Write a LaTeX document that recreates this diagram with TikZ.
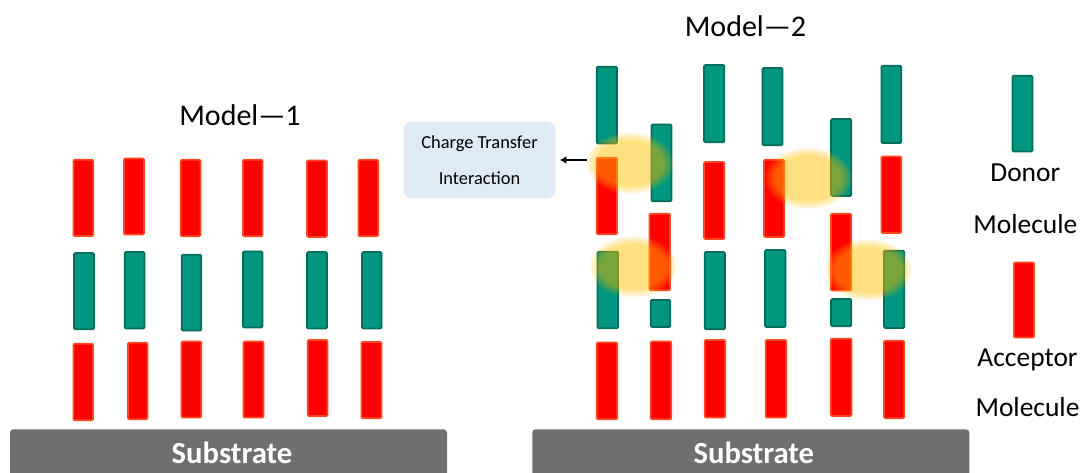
\documentclass[tikz,border=0pt]{standalone}
\usepackage{fontspec}
\setmainfont{Carlito}
\usetikzlibrary{arrows.meta}
\definecolor{accfill}{RGB}{255,0,0}
\definecolor{accline}{RGB}{255,72,32}
\definecolor{donfill}{RGB}{0,150,128}
\definecolor{donline}{RGB}{0,110,92}
\definecolor{subc}{RGB}{111,111,111}
\definecolor{boxc}{RGB}{222,235,247}
\definecolor{glowc}{RGB}{255,192,0}
\tikzset{
  acc/.style={fill=accfill, draw=accline, line width=1.3pt, rounded corners=0.8pt},
  don/.style={fill=donfill, draw=donline, line width=1.3pt, rounded corners=0.8pt},
  subst/.style={fill=subc, rounded corners=2.5pt},
  subtext/.style={text=white, font=\fontsize{23}{27}\selectfont\bfseries, inner sep=0pt},
  title/.style={font=\fontsize{22.5}{27}\selectfont, inner sep=0pt, anchor=base},
  legtext/.style={font=\fontsize{20.6}{24}\selectfont, inner sep=0pt, anchor=base},
  ctbox/.style={fill=boxc, rounded corners=6pt, inner sep=0pt, minimum width=114pt, minimum height=57.5pt,
    align=center, font=\fontsize{13.8}{27}\selectfont},
  ctarrow/.style={-{Latex[length=5pt,width=6pt]}, line width=1.5pt, shorten >=3pt}
}
\begin{document}
\begin{tikzpicture}[x=0.75pt,y=-0.75pt]
\useasboundingbox (0,0) rectangle (1082,473);
\clip (0,0) rectangle (1082,473);
% substrates
\fill[subst] (10,490) rectangle (447,429.3);
\fill[subst] (532.3,490) rectangle (969.3,429.3);
\node[subtext, anchor=base] (sub1) at (232,464) {Substrate};
\node[subtext, anchor=base] (sub2) at (753.8,464) {Substrate};
% titles
\node[title] (m1) at (240,125.7) {Model—1};
\node[title] (m2) at (745.5,36.7) {Model—2};
% Model 1 acceptors
\foreach \a/\b/\c/\d in {
  73.5/93.2/159.8/235.9, 124.1/143.9/158.5/234.5, 180.8/200.5/159.8/236.2, 243.1/262.5/159.8/236.2,
  307.1/326.9/160.5/236.9, 358.5/378.2/159.8/236.2,
  73.5/92.9/343.8/420.2, 128.1/147.5/342.8/419.2, 181.5/201.2/341.5/417.5, 243.5/263.5/341.5/417.5,
  307.8/327.5/340.1/415.9, 361.5/381.5/342.1/418.2}
  \draw[acc] (\a,\c) rectangle (\b,\d);
% Model 1 donors
\foreach \a/\b/\c/\d in {
  74.1/93.9/253.1/329.2, 124.8/144.5/252.1/328.5, 181.8/201.2/254.8/330.5, 243.1/262.5/251.5/327.5,
  307.1/326.9/252.1/328.5, 362.1/381.5/252.1/328.5}
  \draw[don] (\a,\c) rectangle (\b,\d);
% Model 2 donors
\foreach \a/\b/\c/\d in {
  596.8/616.9/66.8/143.5, 597.5/617.9/251.8/328.2,
  651.5/671.5/124.5/201.2, 650.8/670.2/300.1/326.9,
  704.1/724.2/65.1/142.2, 704.8/724.9/252.1/329.2,
  762.5/782.5/68.1/145.2, 765.1/785.5/250.1/326.9,
  831.1/851.2/119.1/195.9, 831.1/851.2/299.1/326.2,
  881.5/901.2/65.8/142.9, 884.1/904.2/250.8/327.9}
  \draw[don] (\a,\c) rectangle (\b,\d);
% Model 2 acceptors
\foreach \a/\b/\c/\d in {
  596.8/616.9/157.8/234.2, 649.5/669.9/213.8/290.2, 704.1/724.2/162.1/238.9, 764.1/784.2/159.8/236.9,
  831.1/851.2/213.8/290.5, 881.5/901.2/156.5/232.9,
  596.8/617.2/342.5/419.2, 650.8/671.2/341.5/419.2, 704.8/725.2/340.1/417.5, 765.8/786.2/340.1/417.5,
  830.8/851.5/338.8/415.9, 884.1/904.2/340.8/418.2}
  \draw[acc] (\a,\c) rectangle (\b,\d);
% legend
\draw[don] (1012.5,75.8) rectangle (1032.5,151.5);
\draw[acc] (1014.1,262.5) rectangle (1033.9,337.5);
\node[legtext] (ldon1) at (1025.3,181.7) {Donor};
\node[legtext] (ldon2) at (1025.3,233.3) {Molecule};
\node[legtext] (lacc1) at (1027.5,366.7) {Acceptor};
\node[legtext] (lacc2) at (1027.5,416.7) {Molecule};
% glows (charge transfer interactions)
\coordinate (g1) at (630,163.3);
\coordinate (g2) at (808.3,178.3);
\coordinate (g3) at (633.3,266.7);
\coordinate (g4) at (868.3,270);
\foreach \g in {g1,g2,g3,g4}
  \foreach \i in {0,...,11}
    \fill[glowc, fill opacity=0.056] (\g) ellipse [x radius={(44-\i)*0.75pt}, y radius={(31-0.8*\i)*0.75pt}];
% charge transfer label box
\node[ctbox] (ct) at (479.5,160) {Charge Transfer\\Interaction};
\coordinate (ctail) at (587,160);
\draw[ctarrow] (ctail) -- (ct.east);
\end{tikzpicture}
\end{document}
